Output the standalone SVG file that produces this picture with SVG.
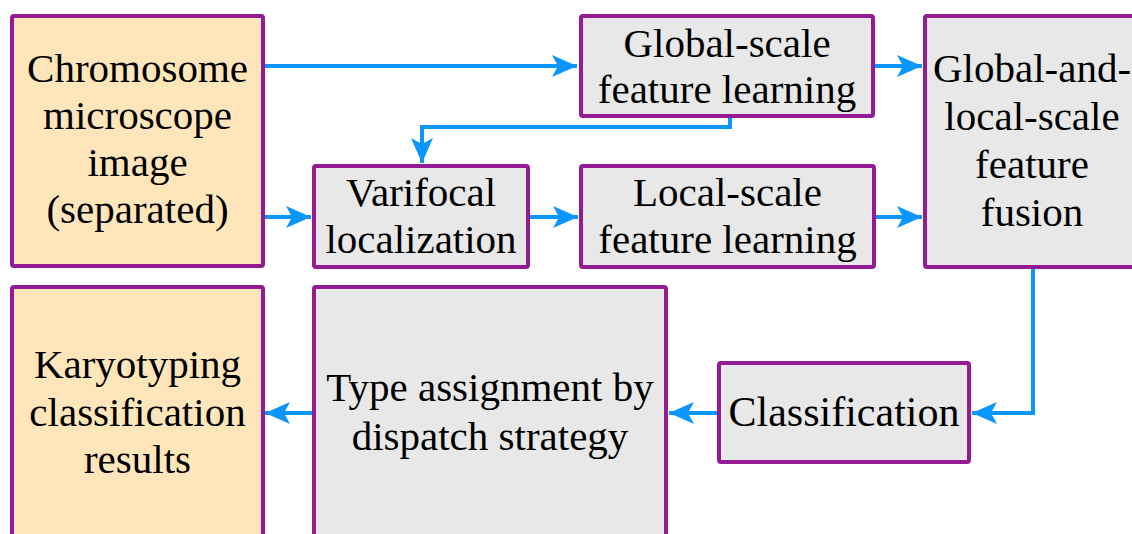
<svg xmlns="http://www.w3.org/2000/svg" width="1132" height="534" viewBox="0 0 1132 534">
<defs>
<marker id="ah" markerUnits="userSpaceOnUse" markerWidth="26" markerHeight="22" refX="25" refY="11" orient="auto">
<path d="M0,0 L25,11 L0,22 L6,11 Z" fill="#0A96FF"/>
</marker>
</defs>
<rect width="1132" height="534" fill="#fff"/>
<g id="connectors" fill="none" stroke="#0A96FF" stroke-width="4">
<path d="M263,66 L577,66" marker-end="url(#ah)"/>
<path d="M263,217 L311,217" marker-end="url(#ah)"/>
<path d="M730,116 L730,127 L422,127 L422,163" marker-end="url(#ah)"/>
<path d="M528,217 L578,217" marker-end="url(#ah)"/>
<path d="M873,66 L922,66" marker-end="url(#ah)"/>
<path d="M874,217 L922,217" marker-end="url(#ah)"/>
<path d="M1033,267 L1033,413 L972,413" marker-end="url(#ah)"/>
<path d="M719,413 L669,413" marker-end="url(#ah)"/>
<path d="M314,413 L265,413" marker-end="url(#ah)"/>
</g>
<g id="chromosome">
<rect x="12" y="16" width="251" height="250" rx="2" fill="#FFE6BA" stroke="#951B94" stroke-width="4"/>
<text x="137.5" y="82" text-anchor="middle" style="font-family:'Liberation Serif',Tinos,'Times New Roman',serif;font-size:41px">Chromosome</text>
<text x="137.5" y="129" text-anchor="middle" style="font-family:'Liberation Serif',Tinos,'Times New Roman',serif;font-size:41px">microscope</text>
<text x="137.5" y="176" text-anchor="middle" style="font-family:'Liberation Serif',Tinos,'Times New Roman',serif;font-size:41px">image</text>
<text x="137.5" y="223" text-anchor="middle" style="font-family:'Liberation Serif',Tinos,'Times New Roman',serif;font-size:41px">(separated)</text>
</g>
<g id="global">
<rect x="581" y="16" width="292" height="100" rx="2" fill="#E8E8E8" stroke="#951B94" stroke-width="4"/>
<text x="727" y="57" text-anchor="middle" style="font-family:'Liberation Serif',Tinos,'Times New Roman',serif;font-size:41px">Global-scale</text>
<text x="727" y="103" text-anchor="middle" style="font-family:'Liberation Serif',Tinos,'Times New Roman',serif;font-size:41px">feature learning</text>
</g>
<g id="varifocal">
<rect x="314" y="166" width="214" height="101" rx="2" fill="#E8E8E8" stroke="#951B94" stroke-width="4"/>
<text x="421" y="206" text-anchor="middle" style="font-family:'Liberation Serif',Tinos,'Times New Roman',serif;font-size:41px">Varifocal</text>
<text x="421" y="253" text-anchor="middle" style="font-family:'Liberation Serif',Tinos,'Times New Roman',serif;font-size:41px">localization</text>
</g>
<g id="local">
<rect x="581" y="166" width="293" height="101" rx="2" fill="#E8E8E8" stroke="#951B94" stroke-width="4"/>
<text x="727.5" y="206" text-anchor="middle" style="font-family:'Liberation Serif',Tinos,'Times New Roman',serif;font-size:41px">Local-scale</text>
<text x="727.5" y="253" text-anchor="middle" style="font-family:'Liberation Serif',Tinos,'Times New Roman',serif;font-size:41px">feature learning</text>
</g>
<g id="fusion">
<rect x="925" y="16" width="216" height="251" rx="2" fill="#E8E8E8" stroke="#951B94" stroke-width="4"/>
<text x="1032" y="82" text-anchor="middle" style="font-family:'Liberation Serif',Tinos,'Times New Roman',serif;font-size:41px">Global-and-</text>
<text x="1032" y="130" text-anchor="middle" style="font-family:'Liberation Serif',Tinos,'Times New Roman',serif;font-size:41px">local-scale</text>
<text x="1032" y="178" text-anchor="middle" style="font-family:'Liberation Serif',Tinos,'Times New Roman',serif;font-size:41px">feature</text>
<text x="1032" y="226" text-anchor="middle" style="font-family:'Liberation Serif',Tinos,'Times New Roman',serif;font-size:41px">fusion</text>
</g>
<g id="classification">
<rect x="719" y="363" width="250" height="99" rx="2" fill="#E8E8E8" stroke="#951B94" stroke-width="4"/>
<text x="844" y="426" text-anchor="middle" style="font-family:'Liberation Serif',Tinos,'Times New Roman',serif;font-size:42px">Classification</text>
</g>
<g id="type">
<rect x="314" y="287" width="352" height="260" rx="2" fill="#E8E8E8" stroke="#951B94" stroke-width="4"/>
<text x="490" y="401" text-anchor="middle" style="font-family:'Liberation Serif',Tinos,'Times New Roman',serif;font-size:41px">Type assignment by</text>
<text x="490" y="450" text-anchor="middle" style="font-family:'Liberation Serif',Tinos,'Times New Roman',serif;font-size:41px">dispatch strategy</text>
</g>
<g id="karyotyping">
<rect x="12" y="287" width="251" height="260" rx="2" fill="#FFE6BA" stroke="#951B94" stroke-width="4"/>
<text x="137.5" y="378" text-anchor="middle" style="font-family:'Liberation Serif',Tinos,'Times New Roman',serif;font-size:41px">Karyotyping</text>
<text x="137.5" y="426" text-anchor="middle" style="font-family:'Liberation Serif',Tinos,'Times New Roman',serif;font-size:41px">classification</text>
<text x="137.5" y="473" text-anchor="middle" style="font-family:'Liberation Serif',Tinos,'Times New Roman',serif;font-size:41px">results</text>
</g>
</svg>
